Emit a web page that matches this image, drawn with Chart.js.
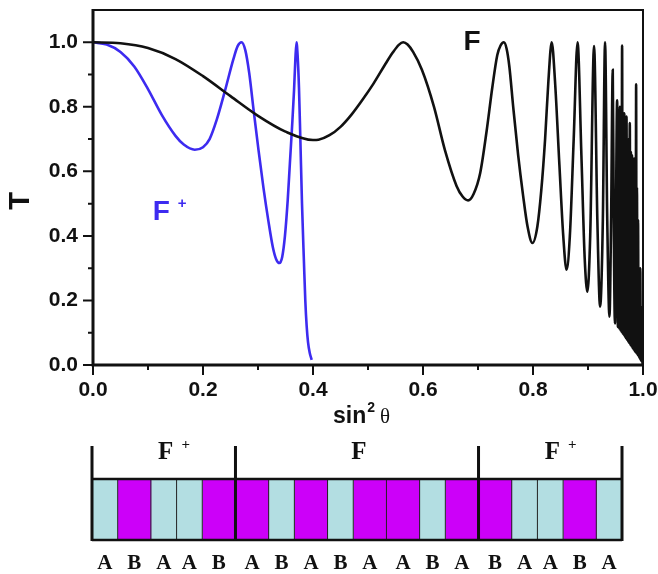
<!DOCTYPE html>
<html>
<head>
<meta charset="utf-8">
<script src="https://cdn.jsdelivr.net/npm/chart.js@4.4.1/dist/chart.umd.min.js"></script>
<style>
  body { margin: 0; background: #fff; }
  #wrap { position: relative; width: 658px; height: 574px; }
  canvas { position: absolute; left: 0; }
  #plot { top: 0; }
  #stack { top: 430px; }
</style>
</head>
<body>
<div id="wrap">
  <canvas id="plot" width="658" height="430"></canvas>
  <canvas id="stack" width="658" height="144"></canvas>
</div>
<script>
// transmission T against sin^2(theta) for the F stack (black) and F+ stack (blue)
const fX = [0, 0.05, 0.10, 0.15, 0.20, 0.25, 0.30, 0.35, 0.40, 0.41, 0.43, 0.45,
  0.47, 0.49, 0.51, 0.53, 0.545, 0.556, 0.564, 0.572, 0.582, 0.598, 0.620, 0.640,
  0.661, 0.672, 0.682, 0.692, 0.704, 0.716, 0.726, 0.735, 0.741, 0.747, 0.752, 0.757,
  0.764, 0.773, 0.782, 0.790, 0.799, 0.808, 0.815, 0.822, 0.828, 0.834, 0.840, 0.848,
  0.855, 0.861, 0.867, 0.874, 0.881, 0.888, 0.894, 0.899, 0.904, 0.911, 0.917, 0.922,
  0.927, 0.931, 0.935, 0.939, 0.942, 0.945, 0.947, 0.949,
  0.9530, 0.9543, 0.9555, 0.9568, 0.9580, 0.9590, 0.9600, 0.9610,
  0.9620, 0.9630, 0.9640, 0.9650, 0.9660, 0.9670, 0.9680, 0.9690, 0.9700, 0.9710, 0.9720,
  0.9730, 0.9740, 0.9750, 0.9760, 0.9770, 0.9780, 0.9790, 0.9800, 0.9810, 0.9820, 0.9830,
  0.9840, 0.9850, 0.9860, 0.9867, 0.9875, 0.9882, 0.9890, 0.9900, 0.9910, 0.9920, 0.9930,
  0.9940, 0.9950, 0.9960, 0.9970, 0.9978, 0.9985, 0.9993, 1.0000];
const fT = [1.000, 0.997, 0.982, 0.948, 0.895, 0.833, 0.772, 0.723, 0.697, 0.698, 0.712, 0.738,
  0.776, 0.822, 0.872, 0.928, 0.968, 0.992, 1.000, 0.993, 0.970, 0.915, 0.800, 0.665,
  0.555, 0.522, 0.510, 0.530, 0.595, 0.729, 0.860, 0.960, 0.990, 1.000, 0.980, 0.925,
  0.800, 0.650, 0.525, 0.430, 0.378, 0.430, 0.540, 0.700, 0.880, 1.000, 0.880, 0.620,
  0.400, 0.295, 0.400, 0.700, 1.000, 0.650, 0.330, 0.227, 0.400, 0.988, 0.450, 0.181,
  0.450, 1.000, 0.450, 0.150, 0.450, 0.915, 0.400, 0.129,
  0.82, 0.118, 0.76, 0.114, 0.80, 0.108, 0.72, 0.103,
  0.99, 0.098, 0.74, 0.094, 0.78, 0.088, 0.70, 0.083, 0.77, 0.078, 0.68,
  0.073, 0.70, 0.068, 0.75, 0.063, 0.66, 0.058, 0.65, 0.053, 0.60, 0.048,
  0.64, 0.043, 0.58, 0.040, 0.87, 0.036, 0.55, 0.031, 0.45, 0.026, 0.27,
  0.020, 0.30, 0.014, 0.18, 0.009, 0.10, 0.004, 0.000];

const fpX = [0, 0.025, 0.05, 0.075, 0.10, 0.125, 0.15, 0.165, 0.185, 0.200, 0.212, 0.225,
  0.240, 0.255, 0.263, 0.270, 0.277, 0.284, 0.292, 0.301, 0.310, 0.319, 0.327, 0.333,
  0.339, 0.344, 0.349, 0.354, 0.358, 0.362, 0.3655, 0.368, 0.370, 0.372, 0.3745, 0.377,
  0.380, 0.3836, 0.386, 0.3885, 0.391, 0.394, 0.3976];
const fpT = [1.000, 0.993, 0.970, 0.925, 0.855, 0.775, 0.710, 0.683, 0.667, 0.675, 0.700, 0.760,
  0.850, 0.946, 0.988, 1.000, 0.975, 0.905, 0.790, 0.665, 0.548, 0.445, 0.365, 0.328,
  0.316, 0.335, 0.400, 0.510, 0.626, 0.740, 0.850, 0.950, 1.000, 0.960, 0.860, 0.700,
  0.500, 0.316, 0.200, 0.120, 0.070, 0.038, 0.016];

// layer sequence of the stack drawn underneath
const layerType = ['A', 'B', 'A', 'A', 'B', 'B', 'A', 'B', 'A', 'B', 'B', 'A', 'B', 'B', 'A', 'A', 'B', 'A'];
const layerLabel = ['A', 'B', 'A', 'A', 'B', 'A', 'B', 'A', 'B', 'A', 'A', 'B', 'A', 'B', 'A', 'A', 'B', 'A'];
const thickness = { A: 25.7, B: 33.2 };
const blockName = ['F', 'F', 'F'];
const blockSup = ['+', '', '+'];
const blockSize = [5, 8, 5];

const ink = '#111';
const blue = '#3d2bf0';
const layerColor = { A: '#b3dee2', B: '#cc00f9' };
const sans = '"Liberation Sans", Arial, sans-serif';
const serif = '"Liberation Serif", "Times New Roman", serif';

const isMajor = v => Math.round(v * 10) % 2 === 0;

const plotDecor = {
  id: 'plotDecor',
  afterDraw(chart) {
    const { ctx, chartArea: a, scales: { x, y } } = chart;
    ctx.save();
    ctx.strokeStyle = ink;
    ctx.lineWidth = 2;
    ctx.beginPath();
    x.ticks.forEach(t => {
      const px = x.getPixelForValue(t.value);
      ctx.moveTo(px, a.bottom);
      ctx.lineTo(px, a.bottom + (isMajor(t.value) ? 10 : 5));
    });
    y.ticks.forEach(t => {
      if (t.value > 1.05) return;
      const py = y.getPixelForValue(t.value);
      ctx.moveTo(a.left, py);
      ctx.lineTo(a.left - (isMajor(t.value) ? 10 : 5), py);
    });
    ctx.stroke();

    // frame: heavier on the axes
    ctx.lineWidth = 2;
    ctx.beginPath();
    ctx.moveTo(a.left, a.top);
    ctx.lineTo(a.right, a.top);
    ctx.lineTo(a.right, a.bottom);
    ctx.stroke();
    ctx.lineWidth = 3;
    ctx.beginPath();
    ctx.moveTo(a.left, a.top - 1);
    ctx.lineTo(a.left, a.bottom);
    ctx.lineTo(a.right + 1, a.bottom);
    ctx.stroke();

    // axis titles
    ctx.fillStyle = ink;
    ctx.textBaseline = 'alphabetic';
    ctx.textAlign = 'left';
    let tx = 333, ty = 423;
    ctx.font = 'bold 23px ' + sans;
    ctx.fillText('sin', tx, ty);
    tx += ctx.measureText('sin').width + 1;
    ctx.font = 'bold 14px ' + sans;
    ctx.fillText('2', tx, ty - 11);
    tx += ctx.measureText('2').width + 5;
    ctx.font = '21px ' + serif;
    ctx.fillText('\u03b8', tx, ty);

    ctx.save();
    ctx.translate(21, 201);
    ctx.rotate(-Math.PI / 2);
    ctx.textAlign = 'center';
    ctx.textBaseline = 'middle';
    ctx.font = 'bold 29px ' + sans;
    ctx.fillText('T', 0, 0);
    ctx.restore();

    // curve names
    ctx.textAlign = 'center';
    ctx.textBaseline = 'middle';
    ctx.font = 'bold 28px ' + sans;
    ctx.fillText('F', x.getPixelForValue(0.689), y.getPixelForValue(1.0));
    ctx.fillStyle = blue;
    const bx = x.getPixelForValue(0.124), by = y.getPixelForValue(0.474);
    ctx.fillText('F', bx, by);
    ctx.font = 'bold 15px ' + sans;
    ctx.fillText('+', bx + 21, by - 8);
    ctx.restore();
  }
};

new Chart(document.getElementById('plot'), {
  type: 'line',
  data: {
    datasets: [{
      label: 'F',
      data: fX.map((v, i) => ({ x: v, y: fT[i] })),
      borderColor: ink,
      borderWidth: 2.6,
      pointRadius: 0,
      cubicInterpolationMode: 'monotone'
    }, {
      label: 'F+',
      data: fpX.map((v, i) => ({ x: v, y: fpT[i] })),
      borderColor: blue,
      borderWidth: 2.6,
      pointRadius: 0,
      cubicInterpolationMode: 'monotone'
    }]
  },
  options: {
    responsive: false,
    animation: false,
    layout: { padding: { top: 10, right: 15, left: 0, bottom: 0 } },
    plugins: { legend: { display: false }, tooltip: { enabled: false } },
    scales: {
      x: {
        type: 'linear', min: 0, max: 1,
        grid: { display: false, drawTicks: false },
        border: { display: false },
        afterFit: s => { s.height = 65; s.paddingLeft = 0; s.paddingRight = 0; },
        ticks: {
          stepSize: 0.1, autoSkip: false, maxRotation: 0, padding: 13, color: ink,
          font: { family: sans, size: 21, weight: 'bold' },
          callback: v => isMajor(v) ? v.toFixed(1) : ''
        }
      },
      y: {
        min: 0, max: 1.1,
        grid: { display: false, drawTicks: false },
        border: { display: false },
        afterFit: s => { s.width = 93; s.paddingTop = 0; s.paddingBottom = 0; },
        ticks: {
          stepSize: 0.1, autoSkip: false, padding: 15, color: ink,
          font: { family: sans, size: 21, weight: 'bold' },
          callback: v => (v < 1.05 && isMajor(v)) ? v.toFixed(1) : ''
        }
      }
    }
  },
  plugins: [plotDecor]
});

// layered stack: one stacked horizontal bar, one segment per layer
const stackDecor = {
  id: 'stackDecor',
  afterDraw(chart) {
    const { ctx, chartArea: a, scales: { x } } = chart;
    const edges = [0];
    layerType.forEach(t => edges.push(edges[edges.length - 1] + thickness[t]));
    const px = edges.map(e => x.getPixelForValue(e));
    ctx.save();
    ctx.strokeStyle = '#222';
    ctx.lineWidth = 1;
    ctx.beginPath();
    px.slice(1, -1).forEach(p => { ctx.moveTo(p, a.top); ctx.lineTo(p, a.bottom); });
    ctx.stroke();

    ctx.strokeStyle = ink;
    ctx.lineWidth = 2.5;
    ctx.beginPath();
    ctx.moveTo(px[0], a.top); ctx.lineTo(px[px.length - 1], a.top);
    ctx.moveTo(px[0], a.bottom); ctx.lineTo(px[px.length - 1], a.bottom);
    ctx.stroke();

    // block brackets and names
    let k = 0;
    const bounds = [0];
    blockSize.forEach(n => { k += n; bounds.push(k); });
    ctx.lineWidth = 3;
    ctx.beginPath();
    bounds.forEach(i => { ctx.moveTo(px[i], a.top - 33); ctx.lineTo(px[i], a.bottom + 1); });
    ctx.stroke();

    ctx.fillStyle = ink;
    ctx.textBaseline = 'middle';
    ctx.textAlign = 'center';
    blockName.forEach((nm, b) => {
      const cx = (px[bounds[b]] + px[bounds[b + 1]]) / 2 + 2;
      ctx.font = 'bold 25px ' + serif;
      ctx.fillText(nm, cx, a.top - 26);
      if (blockSup[b]) {
        ctx.font = 'bold 15px ' + serif;
        ctx.fillText(blockSup[b], cx + 20, a.top - 34);
      }
    });

    ctx.font = 'bold 21px ' + serif;
    layerLabel.forEach((l, i) => {
      ctx.fillText(l, (px[i] + px[i + 1]) / 2, a.bottom + 24);
    });
    ctx.restore();
  }
};

const total = layerType.reduce((s, t) => s + thickness[t], 0);

new Chart(document.getElementById('stack'), {
  type: 'bar',
  data: {
    labels: ['stack'],
    datasets: layerType.map(t => ({
      label: t,
      data: [thickness[t]],
      backgroundColor: layerColor[t],
      borderWidth: 0,
      barPercentage: 1,
      categoryPercentage: 1
    }))
  },
  options: {
    indexAxis: 'y',
    responsive: false,
    animation: false,
    layout: { padding: { left: 92, right: 36, top: 49, bottom: 34 } },
    plugins: { legend: { display: false }, tooltip: { enabled: false } },
    scales: {
      x: { stacked: true, display: false, min: 0, max: total },
      y: { stacked: true, display: false }
    }
  },
  plugins: [stackDecor]
});
</script>
</body>
</html>
